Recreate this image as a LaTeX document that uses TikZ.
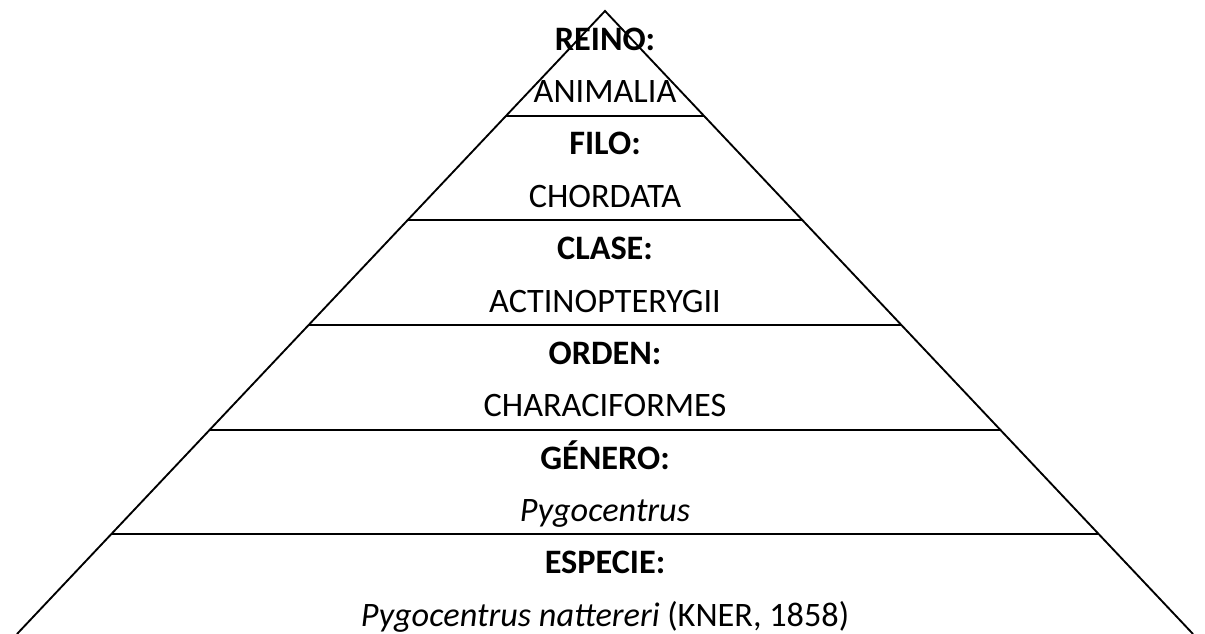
\documentclass[tikz,border=0pt]{standalone}
\usepackage{fontspec}
\setmainfont{Carlito}
\usetikzlibrary{calc}

\begin{document}
\begin{tikzpicture}[x=0.75pt,y=-0.75pt,
rank/.style={font=\fontsize{25.7}{30}\selectfont\bfseries,inner sep=0pt,anchor=base},
taxon/.style={font=\fontsize{25.7}{30}\selectfont,inner sep=0pt,anchor=base},
edge/.style={line width=1.4pt}]
\useasboundingbox (0,0) rectangle (1205,634);
\coordinate (apex) at (605,11);
\coordinate (bl) at (17,634);
\coordinate (br) at (1193,634);
\draw[edge] (bl) -- (apex) -- (br);
% tier borders
\foreach \k in {1,...,5}
  \draw[edge] ($(apex)!\k*0.168!(bl)$) -- ($(apex)!\k*0.168!(br)$);
\node[rank] (reino) at (605,50.5) {REINO:};
\node[taxon] (animalia) at (605,103) {ANIMALIA};
\node[rank] (filo) at (605,155) {FILO:};
\node[taxon] (chordata) at (605,207.5) {CHORDATA};
\node[rank] (clase) at (605,259.5) {CLASE:};
\node[taxon] (actino) at (605,312) {ACTINOPTERYGII};
\node[rank] (orden) at (605,364) {ORDEN:};
\node[taxon] (characi) at (605,416.5) {CHARACIFORMES};
\node[rank] (genero) at (605,469) {GÉNERO:};
\node[taxon] (pygo) at (605,521) {\itshape Pygocentrus};
\node[rank] (especie) at (605,573.5) {ESPECIE:};
\node[taxon] (natt) at (605,626) {\textit{Pygocentrus nattereri} (KNER, 1858)};
\end{tikzpicture}
\end{document}
